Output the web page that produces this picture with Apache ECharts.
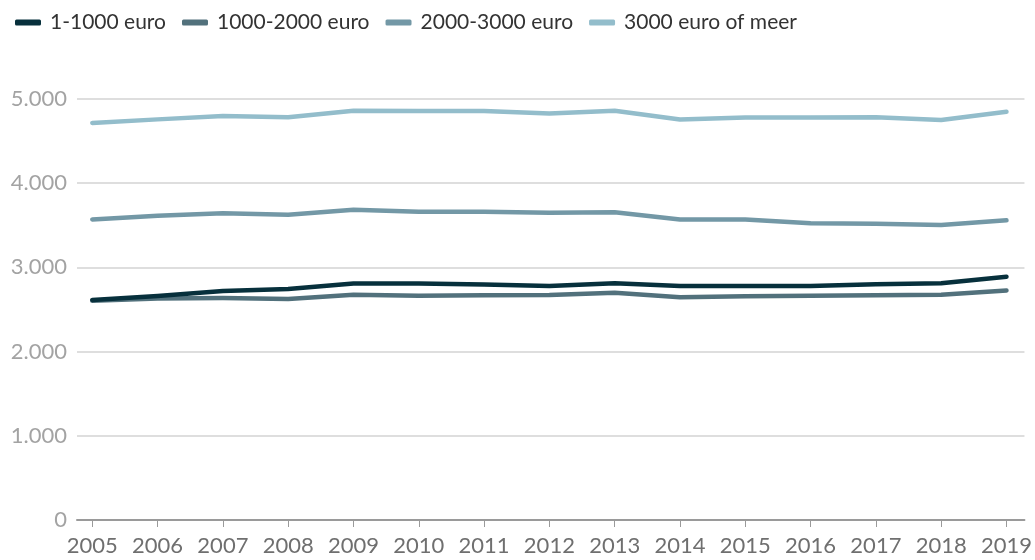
<!DOCTYPE html>
<html>
<head>
<meta charset="utf-8">
<script src="https://cdn.jsdelivr.net/npm/echarts@6/dist/echarts.min.js"></script>
<style>
  html, body { margin: 0; padding: 0; background: #fff; }
  #chart { width: 1035px; height: 560px; }
</style>
</head>
<body>
<div id="chart"></div>
<script>
// Jaren en waarden per inkomensklasse
const years = [2005, 2006, 2007, 2008, 2009, 2010, 2011, 2012, 2013, 2014, 2015, 2016, 2017, 2018, 2019];
const seriesNames = ['1-1000 euro', '1000-2000 euro', '2000-3000 euro', '3000 euro of meer'];
const values1 = [2613, 2660, 2720, 2743, 2810, 2810, 2798, 2779, 2812, 2779, 2779, 2779, 2800, 2812, 2890];
const values2 = [2604, 2632, 2636, 2624, 2676, 2664, 2668, 2672, 2698, 2646, 2656, 2664, 2670, 2676, 2727];
const values3 = [3570, 3614, 3642, 3626, 3685, 3661, 3661, 3650, 3654, 3570, 3570, 3525, 3519, 3503, 3559];
const values4 = [4715, 4758, 4798, 4782, 4861, 4857, 4857, 4829, 4861, 4756, 4780, 4780, 4782, 4751, 4849];

const colors = ['#07303c', '#52717c', '#7398a6', '#93bdcb'];
const allValues = [values1, values2, values3, values4];
// breedte van elk legendalabel
const legendTextWidths = [114, 156, 158, 167];

const fmt = v => String(v).replace(/\B(?=(\d{3})+(?!\d))/g, '.');

const chart = echarts.init(document.getElementById('chart'), null, { renderer: 'canvas' });

chart.setOption({
  animation: false,
  textStyle: { fontFamily: 'Lato' },
  color: colors,
  legend: {
    left: 10,
    top: 7,
    itemGap: 16,
    itemWidth: 26,
    itemHeight: 6,
    icon: 'roundRect',
    textStyle: { fontFamily: 'Lato', fontSize: 21, color: '#333', padding: [0, 0, 0, 4] },
    data: seriesNames.map((name, i) => ({
      name,
      textStyle: { width: legendTextWidths[i], overflow: 'none' }
    }))
  },
  grid: { left: 77, right: 9, top: 99, bottom: 40, containLabel: false },
  xAxis: {
    type: 'value',
    min: 2004.766,
    max: 2019.275,
    splitLine: { show: false },
    axisLine: { show: true, lineStyle: { color: '#9a9a9a', width: 2 } },
    axisTick: { show: true, customValues: years, length: 7, lineStyle: { color: '#9a9a9a', width: 1 } },
    axisLabel: {
      customValues: years,
      color: '#6f6f6f',
      fontFamily: 'Lato',
      fontSize: 22,
      margin: 15,
      formatter: v => String(v)
    }
  },
  yAxis: {
    type: 'value',
    min: 0,
    max: 5000,
    interval: 1000,
    axisLine: { show: false },
    axisTick: { show: false },
    axisLabel: {
      color: '#a3a3a3',
      fontFamily: 'Lato',
      fontSize: 22,
      margin: 10,
      formatter: v => fmt(v)
    },
    splitLine: { lineStyle: { color: '#dedede', width: 2 } }
  },
  series: seriesNames.map((name, i) => ({
    name,
    type: 'line',
    data: years.map((y, j) => [y, allValues[i][j]]),
    showSymbol: false,
    symbol: 'none',
    lineStyle: { width: 4.5, color: colors[i], cap: 'round', join: 'round' },
    itemStyle: { color: colors[i] },
    z: 10 - i
  }))
});
</script>
</body>
</html>
